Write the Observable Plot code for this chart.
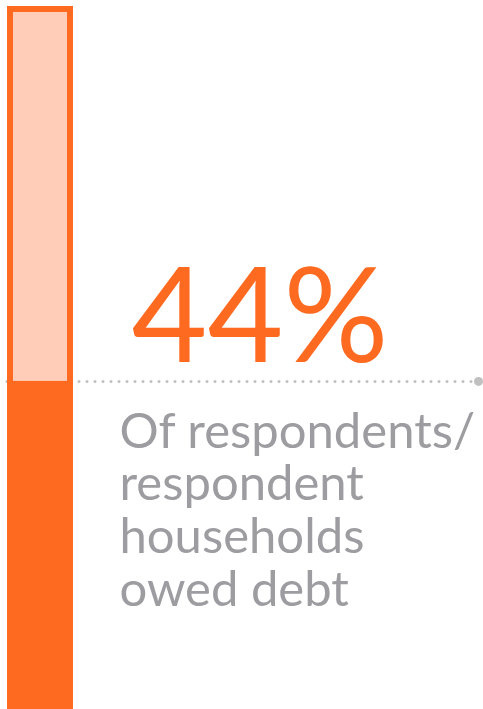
<!DOCTYPE html>
<html>
<head>
<meta charset="utf-8">
<script src="https://cdn.jsdelivr.net/npm/d3@7"></script>
<script src="https://cdn.jsdelivr.net/npm/@observablehq/plot@0.6"></script>
<style>
  html, body { margin: 0; padding: 0; background: #ffffff; }
  #chart svg { display: block; }
</style>
</head>
<body>
<div id="chart"></div>
<script>
// ---- data ----
const categories = ["Owed debt"];
const shareOwedDebt = [44];          // percent of respondents / households
const totalShare = [100];            // full bar
const headline = ["44%"];
const descriptionLines = ["Of respondents/", "respondent", "households", "owed debt"];

// ---- styles ----
const orange = "#ff6a21";
const peach = "#ffcdb8";
const gray = "#9d9da1";
const dotGray = "#c0c0c0";
const yDomain = [-5, 100];

const chart = Plot.plot({
  width: 483,
  height: 709,
  marginTop: 6,
  marginBottom: 0,
  marginLeft: 7,
  marginRight: 5,
  style: { background: "#ffffff", overflow: "visible" },
  x: { type: "band", domain: categories, range: [7, 73], padding: 0, axis: null },
  y: { domain: yDomain, axis: null },
  marks: [
    Plot.ruleY(shareOwedDebt, {
      y: d => d,
      stroke: dotGray,
      strokeWidth: 3,
      strokeDasharray: "0,8",
      strokeLinecap: "round"
    }),
    Plot.dot(shareOwedDebt, { y: d => d, frameAnchor: "right", r: 4.5, fill: dotGray, stroke: "none" }),
    Plot.barY(categories, {
      x: d => d,
      y1: () => yDomain[0],
      y2: (d, i) => totalShare[i],
      fill: peach,
      stroke: orange,
      strokeWidth: 6,
      inset: 3
    }),
    Plot.barY(categories, {
      x: d => d,
      y1: () => yDomain[0],
      y2: (d, i) => shareOwedDebt[i],
      fill: orange
    }),
    Plot.text(headline, {
      text: d => d,
      y: (d, i) => shareOwedDebt[i],
      frameAnchor: "left",
      textAnchor: "start",
      lineAnchor: "bottom",
      dx: 124,
      dy: -19,
      fontSize: 131,
      fontFamily: "Lato",
      fill: orange
    }),
    Plot.text([descriptionLines.join("\n")], {
      text: d => d,
      y: () => shareOwedDebt[0],
      frameAnchor: "left",
      textAnchor: "start",
      lineAnchor: "top",
      lineHeight: 1.075,
      dx: 112,
      dy: 29,
      fontSize: 49,
      fontFamily: "Lato",
      fill: gray
    })
  ]
});

document.getElementById("chart").appendChild(chart);
</script>
</body>
</html>
